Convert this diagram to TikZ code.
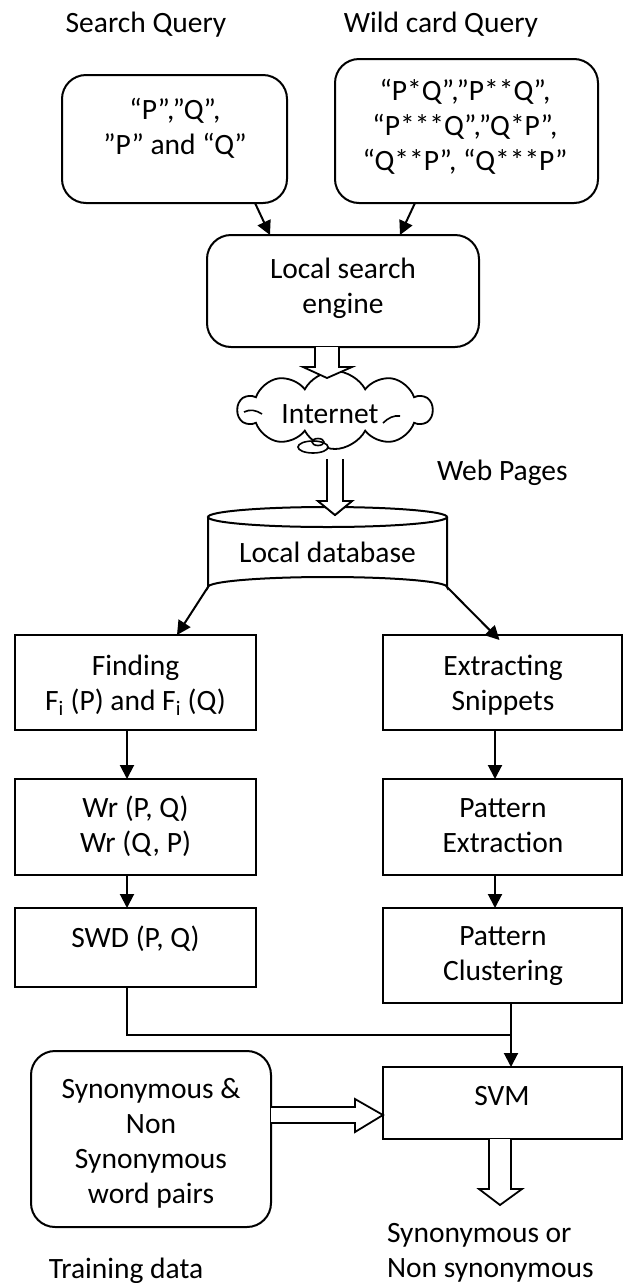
\documentclass[tikz,border=0pt]{standalone}
\usepackage{fontspec}
\setmainfont{Carlito}
\usetikzlibrary{arrows.meta,shapes.symbols,calc}
\newcommand\mlines[1]{\begin{tabular}[t]{@{}c@{}}#1\end{tabular}}
\newcommand\llines[1]{\begin{tabular}[t]{@{}l@{}}#1\end{tabular}}
\begin{document}
\begin{tikzpicture}[x=1pt,y=-1pt,line width=2pt,
  box/.style={draw,inner sep=0pt,outer sep=0pt},
  rbx/.style={box,rounded corners=24pt},
  txt/.style={inner sep=0pt,outer sep=0pt,anchor=base,font=\fontsize{29.5}{35}\selectfont},
  arr/.style={-{Triangle[length=14pt,width=14pt]}},
  hollow/.style={draw,fill=white,line width=1.8pt,line join=miter}]
\useasboundingbox (0,0) rectangle (625,1283);

% titles
\node[txt] (tsq) at (146,32) {Search Query};
\node[txt] (twq) at (441,32) {Wild card Query};

% top boxes
\node[rbx,minimum width=225pt,minimum height=128pt] (lbox) at (174.5,139) {};
\node[txt] (lboxt) at (175,119) {\mlines{“P”,”Q”,\\ ”P” and “Q”}};
\node[rbx,minimum width=263pt,minimum height=144pt] (rbox) at (466.5,131) {};
\node[txt] (rboxt) at (465,100.5) {\mlines{“P*Q”,”P**Q”,\\ “P***Q”,”Q*P”,\\ “Q**P”, “Q***P”}};

% local search engine
\node[rbx,minimum width=272pt,minimum height=112pt] (lse) at (343,291) {};
\node[txt] (lset) at (343,278) {\mlines{Local search\\ engine}};

\draw[arr] ($(lbox.south east)+(-32,0)$) -- ($(lse.north west)+(63,0)$);
\draw[arr] ($(rbox.south west)+(80,0)$) -- ($(lse.north east)+(-79,0)$);

% cloud
\node[cloud,draw,line width=1.8pt,cloud puffs=10,cloud puff arc=125,aspect=2.4,minimum width=194pt,minimum height=78pt,inner sep=0pt] (net) at (335,410) {};
\draw[line width=1.6pt] (244,412) .. controls (250,409) and (256,410) .. (262,414);
\draw[line width=1.6pt] (383,423) .. controls (388,418) and (394,415) .. (400,416);
\draw[fill=white,line width=1.6pt] (313,447) ellipse[x radius=15,y radius=6];
\draw[line width=1.6pt] (318,442) ellipse[x radius=6,y radius=3.5];
\node[txt] (nett) at (330,423) {Internet};

% hollow arrow to cloud
\draw[hollow] (315,347) -- (315,367) -- (303,367) -- (327,378) -- (352,367) -- (339,367) -- (339,347);

% hollow arrow to database
\draw[hollow] (327,459) -- (327,501) -- (318,501) -- (335,515) -- (352,501) -- (343,501) -- (343,459);

\node[txt,anchor=base west] (web) at (437,480) {Web Pages};

% database (cylinder)
\node[inner sep=0pt,outer sep=0pt,minimum width=239pt,minimum height=70pt] (db) at (327.5,552) {};
\draw (db.north west) -- (db.south west) arc[start angle=180,end angle=360,x radius=119.5,y radius=10] -- (db.north east);
\draw ($(db.north west)!0.5!(db.north east)$) ellipse[x radius=119.5,y radius=10];
\draw[hollow] (327,495) -- (327,501) -- (318,501) -- (335,515) -- (352,501) -- (343,501) -- (343,495);
\node[txt] (dbt) at (327.5,562) {Local database};

% left column
\node[box,minimum width=241pt,minimum height=95pt] (find) at (135.5,682.5) {};
\node[txt] (findt) at (135.5,675) {\mlines{Finding\\ F\textsubscript{i} (P) and F\textsubscript{i} (Q)}};
\node[box,minimum width=241pt,minimum height=96pt] (wr) at (135.5,827) {};
\node[txt] (wrt) at (135.5,817) {\mlines{Wr (P, Q)\\ Wr (Q, P)}};
\node[box,minimum width=241pt,minimum height=79pt] (swd) at (135.5,947.5) {};
\node[txt] (swdt) at (135.5,947) {SWD (P, Q)};

% right column
\node[box,minimum width=239pt,minimum height=95pt] (ext) at (502.5,682.5) {};
\node[txt] (extt) at (503,675) {\mlines{Extracting\\ Snippets}};
\node[box,minimum width=239pt,minimum height=96pt] (pe) at (502.5,827) {};
\node[txt] (pet) at (503,817) {\mlines{Pattern\\ Extraction}};
\node[box,minimum width=239pt,minimum height=95pt] (pc) at (502.5,955.5) {};
\node[txt] (pct) at (503,945) {\mlines{Pattern\\ Clustering}};
\node[box,minimum width=239pt,minimum height=72pt] (svm) at (502.5,1103) {};
\node[txt] (svmt) at (502,1105) {SVM};

% db arrows
\draw[arr] (db.south west) -- ($(find.north)+(41.5,0)$);
\draw[arr] (db.south east) -- ($(ext.north)+(-3,5)$);

% column arrows
\draw[arr] ($(find.south)+(-8.5,0)$) -- ($(wr.north)+(-8.5,0)$);
\draw[arr] ($(wr.south)+(-8.5,0)$) -- ($(swd.north)+(-8.5,0)$);
\draw[arr] ($(ext.south)+(-7.5,0)$) -- ($(pe.north)+(-7.5,0)$);
\draw[arr] ($(pe.south)+(-7.5,0)$) -- ($(pc.north)+(-7.5,0)$);

\coordinate (join) at (511,1035);
\draw ($(swd.south)+(-8.5,0)$) |- (join);
\draw[arr] ($(pc.south)+(8.5,0)$) -- ($(svm.north)+(8.5,0)$);

% training data box
\node[rbx,minimum width=240pt,minimum height=176pt] (syn) at (151,1139) {};
\node[txt] (synt) at (151,1098) {\mlines{Synonymous \&\\ Non\\ Synonymous\\ word pairs}};

\draw[hollow] (syn.east |- 0,1107) -- (355,1107) -- (355,1099) -- (svm.west |- 0,1115) -- (355,1132) -- (355,1123) -- (syn.east |- 0,1123);

% output arrow
\draw[hollow] (489,1139) -- (489,1189) -- (479,1189) -- (500,1205) -- (522,1189) -- (511,1189) -- (511,1139);

\node[txt] (train) at (126,1278) {Training data};
\node[txt,anchor=base west] (out) at (387,1242) {\llines{Synonymous or\\ Non synonymous}};
\end{tikzpicture}
\end{document}
